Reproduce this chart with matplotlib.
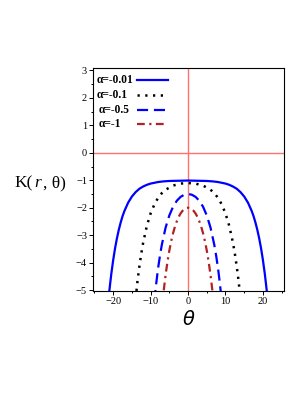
import numpy as np
import matplotlib
matplotlib.use("Agg")
import matplotlib.pyplot as plt
from matplotlib.ticker import MultipleLocator

# Half-curves (theta >= 0); curves are symmetric in theta
theta_a = [0, 5, 6.5, 8, 10, 11, 12, 13, 14, 15, 16, 17, 17.5, 18, 18.5, 19, 19.5, 20, 20.5, 20.75, 21, 21.2]
K_a = [-1.01, -1.026, -1.04, -1.064, -1.121, -1.166, -1.228, -1.31, -1.431, -1.593, -1.815, -2.12, -2.31,
       -2.54, -2.805, -3.117, -3.48, -3.91, -4.41, -4.70, -5.00, -5.26]

theta_b = [0, 2, 4, 6, 7, 8, 9, 10, 11, 12, 12.5, 13, 13.5, 14]
K_b = [-1.10, -1.121, -1.193, -1.345, -1.469, -1.64, -1.88, -2.208, -2.66, -3.28, -3.676, -4.135, -4.67, -5.31]

theta_c = [0, 1, 2, 3, 4, 5, 6, 7, 7.5, 8, 8.5, 9]
K_c = [-1.50, -1.526, -1.605, -1.746, -1.963, -2.28, -2.725, -3.345, -3.743, -4.20, -4.76, -5.40]

theta_d = [0, 0.5, 1, 1.5, 2, 2.5, 3, 3.5, 4, 4.5, 5, 5.5, 6, 6.5, 7]
K_d = [-2.0, -2.013, -2.051, -2.116, -2.209, -2.334, -2.492, -2.688, -2.925, -3.213, -3.559, -3.967, -4.45,
       -5.02, -5.69]

labels = ["α=-0.01", "α=-0.1", "α=-0.5", "α=-1"]
xticks = [-20, -10, 0, 10, 20]
yticks = [-5, -4, -3, -2, -1, 0, 1, 2, 3]


def full(th, k):
    th = np.asarray(th, float)
    k = np.asarray(k, float)
    return np.concatenate([-th[::-1], th[1:]]), np.concatenate([k[::-1], k[1:]])


plt.rcParams['font.family'] = ['Liberation Serif', 'DejaVu Serif']
plt.rcParams['axes.unicode_minus'] = True

fig = plt.figure(figsize=(3.07, 3.98), dpi=100)
ax = fig.add_axes([0.304, 0.269, 0.622, 0.561])

ax.axhline(0, color='#ff7070', lw=1.0, zorder=1)
ax.axvline(0, color='#ff7070', lw=1.0, zorder=1)

styles = [
    dict(color='#0000ff', lw=1.6),
    dict(color='black', lw=1.8, dashes=(0.9, 2.2)),
    dict(color='#0000ff', lw=1.6, dashes=(5, 2.6)),
    dict(color='#b22222', lw=1.6, dashes=(3.5, 2, 1, 2)),
]
curves = [(theta_a, K_a), (theta_b, K_b), (theta_c, K_c), (theta_d, K_d)]
for (th, k), st, lab in zip(curves, styles, labels):
    x, y = full(th, k)
    ax.plot(x, y, label=lab, **st)

ax.set_xlim(-25.3, 25.7)
ax.set_ylim(-5.03, 3.1)
ax.set_xticks(xticks)
ax.set_yticks(yticks)
ax.xaxis.set_minor_locator(MultipleLocator(5))
ax.yaxis.set_minor_locator(MultipleLocator(0.5))
ax.tick_params(which='both', direction='out', top=False, right=False, labelsize=7.5, pad=1.5, width=0.7)
ax.tick_params(which='major', length=3)
ax.tick_params(which='minor', length=1.6)
for s in ax.spines.values():
    s.set_linewidth(0.8)

ax.set_xlabel(r'$\theta$', fontsize=14, labelpad=3)
yl = 1 - 183 / 398
fig.text(0.108, yl, 'K(', fontsize=12.5, ha='right', va='center')
fig.text(0.112, yl, 'r', fontsize=12.5, ha='left', va='center', style='italic')
fig.text(0.140, yl, ', θ)', fontsize=12.5, ha='left', va='center')

# legend: left-aligned texts, handles in a column to the right
leg_y = [0.945, 0.877, 0.812, 0.749]
leg_tx = [0.019, 0.019, 0.029, 0.029]
for st, lab, yy, tx in zip(styles, labels, leg_y, leg_tx):
    ax.text(tx, yy, lab, transform=ax.transAxes, fontsize=8.3, fontweight='bold',
            ha='left', va='center')
    ax.plot([0.229, 0.391], [yy, yy], transform=ax.transAxes, clip_on=False, **st)

fig.savefig('out.png', dpi=100)
